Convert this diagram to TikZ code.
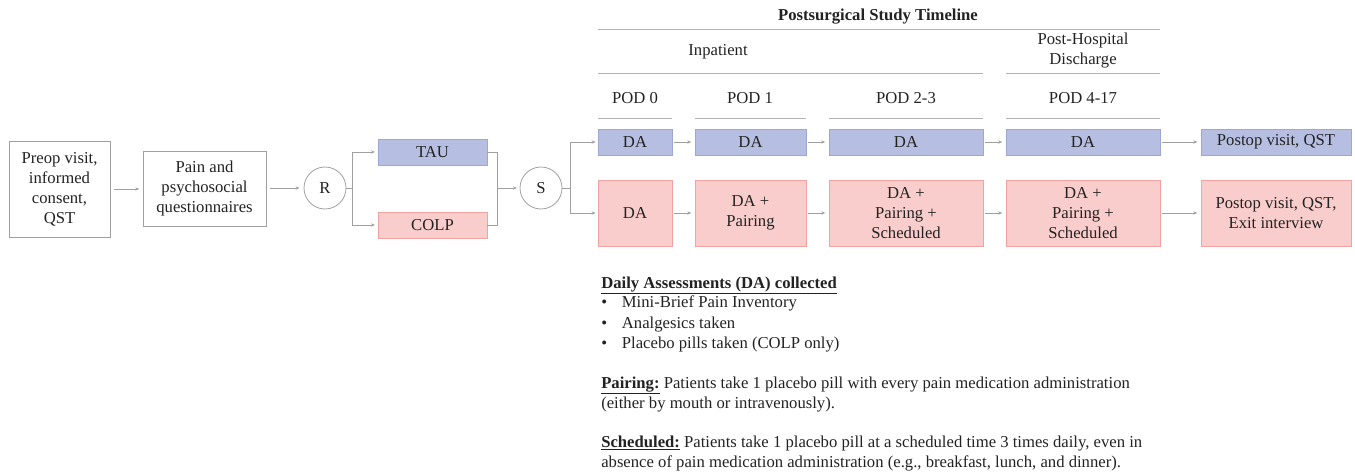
\documentclass[tikz,border=0pt]{standalone}
\usepackage{fontspec}
\setmainfont{Liberation Serif}
\usetikzlibrary{arrows.meta}
\definecolor{txt}{HTML}{222222}
\definecolor{ln}{HTML}{A0A0A0}
\definecolor{bfill}{HTML}{B6BEE1}
\definecolor{bdraw}{HTML}{9DA7D5}
\definecolor{pfill}{HTML}{F9CDCB}
\definecolor{pdraw}{HTML}{F1A3A2}
\tikzset{
  every node/.style={font=\fontsize{12.5}{15}\selectfont, text=txt},
  sz/.style 2 args={minimum width=#1*0.75pt, minimum height=#2*0.75pt},
  wbox/.style={draw=ln, line width=0.6pt, inner sep=0pt, align=center},
  bbox/.style={draw=bdraw, fill=bfill, line width=0.6pt, inner sep=0pt, align=center},
  pbox/.style={draw=pdraw, fill=pfill, line width=0.6pt, inner sep=0pt, align=center},
  circ/.style={draw=ln, circle, line width=0.6pt, minimum size=31.5pt, inner sep=0pt},
  conn/.style={draw=ln, line width=0.6pt},
  arr/.style={conn, -{Stealth[length=3pt,width=2.5pt]}},
  rule/.style={draw=ln!80, line width=0.7pt},
  lbl/.style={anchor=base west, inner sep=0pt},
}
\begin{document}
\begin{tikzpicture}[x=0.75pt,y=-0.75pt]
\useasboundingbox (0,0) rectangle (1355,474);
% left chain
\node[wbox, sz={101}{96}] (pre) at (59.5,189) {Preop visit,\\informed\\consent,\\QST};
\node[wbox, sz={123}{75}] (pain) at (204.5,188.5) {Pain and\\psychosocial\\questionnaires};
\node[circ] (R) at (325,188) {R};
\node[bbox, sz={109}{26}] (tau) at (432.5,152) {TAU};
\node[pbox, sz={109}{26}] (colp) at (432.5,225) {COLP};
\node[circ] (S) at (541,188) {S};
\draw[arr] ([xshift=2.5pt]pre.east |- 0,189) -- ([xshift=-2.5pt]pain.west |- 0,189);
\draw[arr] ([xshift=3pt]pain.east |- 0,188) -- ([xshift=-3pt]R.west);
\coordinate (rb) at (352,188);
\draw[conn] (R.east) -- (rb);
\draw[arr] (rb) |- ([xshift=-2pt]tau.west);
\draw[arr] (rb) |- ([xshift=-2pt]colp.west);
\coordinate (sb) at (497,188);
\draw[conn] (tau.east) -| (sb);
\draw[conn] (colp.east) -| (sb);
\draw[arr] (sb) -- ([xshift=-2pt]S.west);
% timeline header
\node[font=\bfseries\fontsize{12.5}{15}\selectfont] (title) at (878,17) {Postsurgical Study Timeline};
\draw[rule] (598,29) -- (1160,29);
\node (inp) at (718,52) {Inpatient};
\node[align=center] (post) at (1083,51) {Post-Hospital\\Discharge};
\draw[rule] (598,73) -- (983,73);
\draw[rule] (1006,73) -- (1160,73);
\node (p0) at (635,98) {POD 0};
\node (p1) at (750,98) {POD 1};
\node (p2) at (906,98) {POD 2-3};
\node (p4) at (1083,98) {POD 4-17};
\draw[rule] (598,118) -- (672,118);
\draw[rule] (695,118) -- (806,118);
\draw[rule] (829,118) -- (983,118);
\draw[rule] (1006,118) -- (1160,118);
% blue row
\node[bbox, sz={74}{26}] (b0) at (635,142) {DA};
\node[bbox, sz={111}{26}] (b1) at (750.5,142) {DA};
\node[bbox, sz={154}{26}] (b2) at (906,142) {DA};
\node[bbox, sz={154}{26}] (b3) at (1083,142) {DA};
\node[bbox, sz={150}{26}] (b4) at (1276,142) {Postop visit, QST};
% pink row
\node[pbox, sz={74}{66}] (r0) at (635,213) {DA};
\node[pbox, sz={111}{66}] (r1) at (750.5,213) {DA +\\Pairing};
\node[pbox, sz={154}{66}] (r2) at (906,213) {DA +\\Pairing +\\Scheduled};
\node[pbox, sz={154}{66}] (r3) at (1083,213) {DA +\\Pairing +\\Scheduled};
\node[pbox, sz={150}{66}] (r4) at (1276,213) {Postop visit, QST,\\Exit interview};
% S branches
\coordinate (sc) at (570,188);
\draw[conn] (S.east) -- (sc);
\draw[arr] (sc) |- ([xshift=-1.5pt]b0.west);
\draw[arr] (sc) |- ([xshift=-1.5pt]r0.west);
% row arrows
\foreach \a/\b in {b0/b1,b1/b2,b2/b3,b3/b4,r0/r1,r1/r2,r2/r3,r3/r4}{
  \draw[arr] ([xshift=1.5pt]\a.east) -- ([xshift=-2.5pt]\b.west);
}
% text block
\node[lbl] (h1) at (601,288) {\underline{\textbf{Daily Assessments (DA) collected}}};
\node[lbl] (d1) at (601,307) {\makebox[15.5pt][l]{\textbullet}Mini-Brief Pain Inventory};
\node[lbl] (d2) at (601,328) {\makebox[15.5pt][l]{\textbullet}Analgesics taken};
\node[lbl] (d3) at (601,348) {\makebox[15.5pt][l]{\textbullet}Placebo pills taken (COLP only)};
\node[lbl] (pa1) at (601,388) {\underline{\textbf{Pairing:}} Patients take 1 placebo pill with every pain medication administration};
\node[lbl] (pa2) at (601,408) {(either by mouth or intravenously).};
\node[lbl] (sc1) at (601,447) {\underline{\textbf{Scheduled:}} Patients take 1 placebo pill at a scheduled time 3 times daily, even in};
\node[lbl] (sc2) at (601,467) {absence of pain medication administration (e.g., breakfast, lunch, and dinner).};
\end{tikzpicture}
\end{document}
